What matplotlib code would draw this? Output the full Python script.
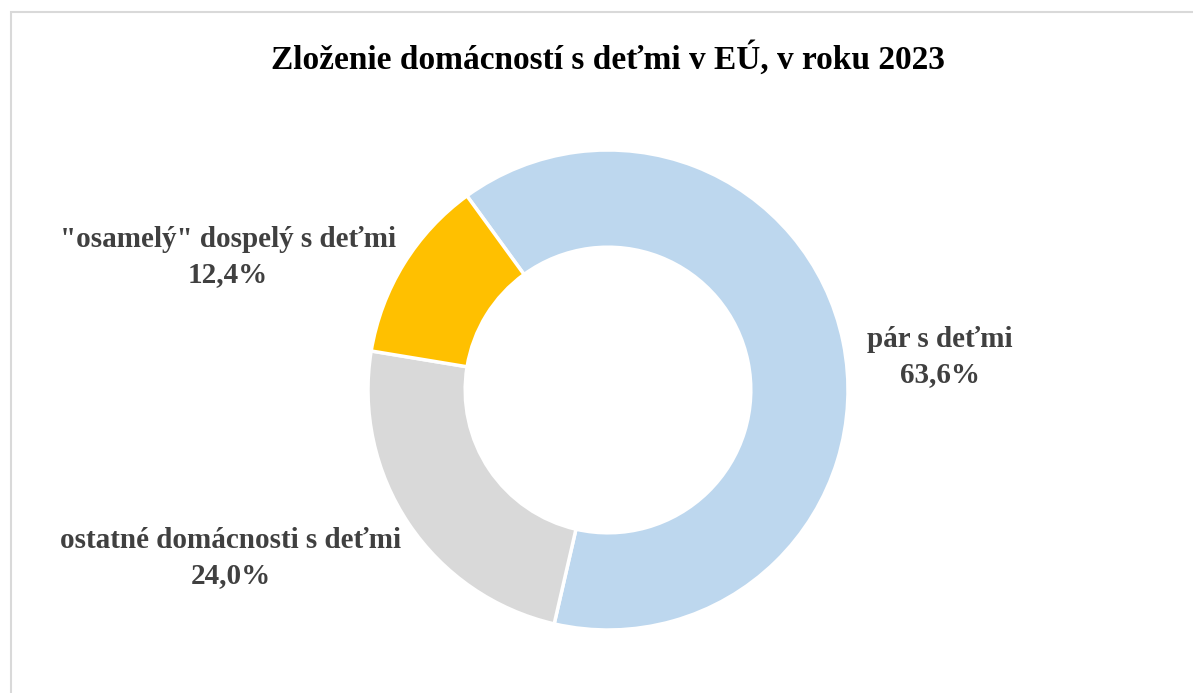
import numpy as np
import matplotlib.pyplot as plt
from matplotlib.patches import Rectangle

# data
labels = ['pár s deťmi', 'ostatné domácnosti s deťmi', '"osamelý" dospelý s deťmi']
values = [63.6, 24.0, 12.4]
colors = ['#BDD7EE', '#D9D9D9', '#FFC000']
title = 'Zloženie domácností s deťmi v EÚ, v roku 2023'

W, H = 1193, 693
fig = plt.figure(figsize=(W / 100, H / 100), dpi=100)

# light grey chart border (extends past right/bottom edge like the crop)
fig.patches.append(Rectangle((11 / W, -0.05), 1.1, 1 - 12 / H + 0.05, transform=fig.transFigure,
                             fill=False, edgecolor='#D9D9D9', linewidth=1.5))

# donut: centre (608, 390) px, outer radius 240 px
cx, cy, r = 608, 390, 240
ax = fig.add_axes([(cx - r) / W, (H - cy - r) / H, 2 * r / W, 2 * r / H])
ax.pie(values, colors=colors, startangle=126, counterclock=False, radius=1,
       wedgeprops=dict(width=0.405, edgecolor='white', linewidth=2.5))
ax.set_xlim(-1, 1)
ax.set_ylim(-1, 1)
ax.set_aspect('equal')
ax.axis('off')

fig.text(608 / W, 1 - 58 / H, title, ha='center', va='center', fontsize=24,
         fontweight='bold', family='Liberation Serif', color='black')

lab_pos = [(940, 357), (231, 558), (228, 257)]
for lab, v, (x, y) in zip(labels, values, lab_pos):
    txt = lab + '\n' + f'{v:.1f}%'.replace('.', ',')
    fig.text(x / W, 1 - y / H, txt, ha='center', va='center', fontsize=21,
             fontweight='bold', family='Liberation Serif', color='#404040', linespacing=1.4)

fig.savefig('out.png', dpi=100)
